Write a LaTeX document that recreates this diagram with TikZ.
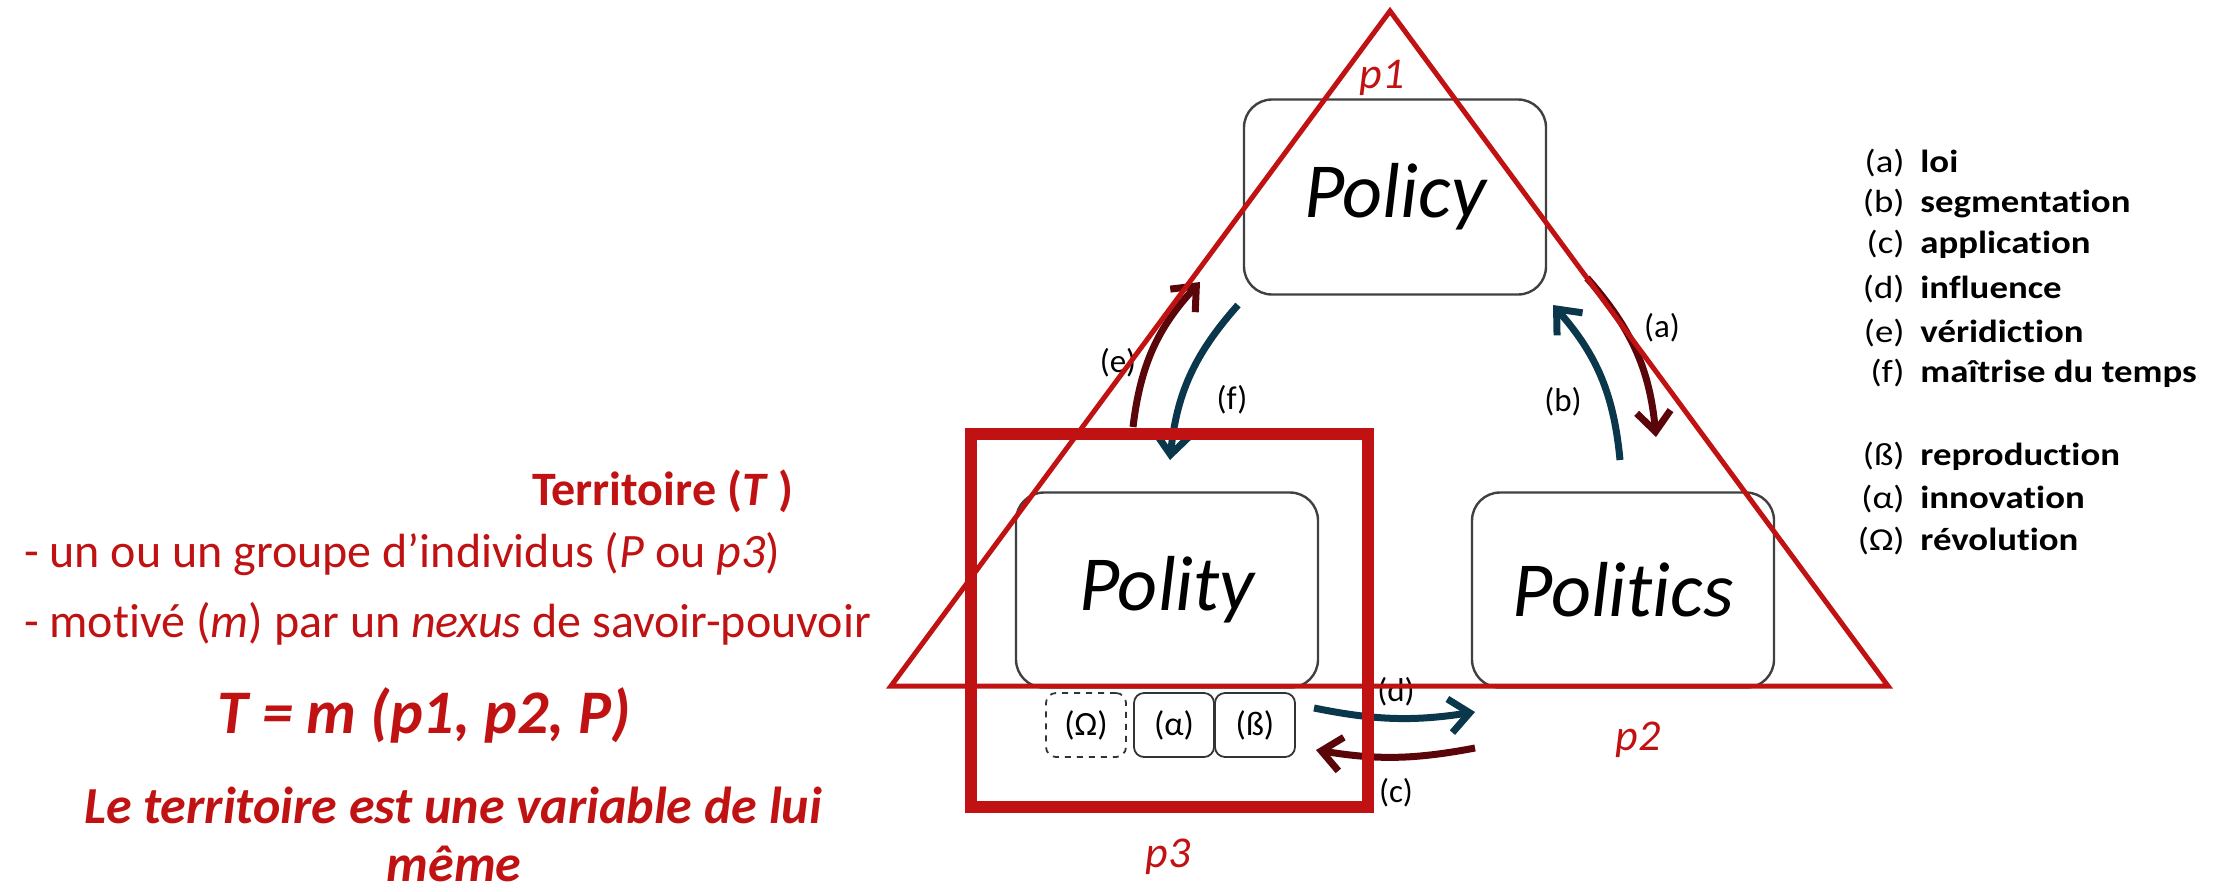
\documentclass[tikz,border=0pt]{standalone}
\usepackage{fontspec}
\setmainfont{Carlito}[Ligatures=NoCommon]
\newfontfamily\legfont[FakeStretch=1.15, Ligatures=NoCommon]{Carlito}
\usetikzlibrary{arrows.meta}
\definecolor{terred}{RGB}{192,18,18}
\definecolor{darkred}{RGB}{90,5,10}
\definecolor{arrteal}{RGB}{10,55,75}
\tikzset{
  pbox/.style={draw=black!75, line width=1.2pt, rounded corners=14pt, minimum width=151pt, minimum height=97.5pt, font=\fontsize{39}{47}\selectfont\itshape},
  sbox/.style={draw=black!80, line width=0.9pt, rounded corners=5pt, minimum width=40pt, minimum height=32pt, inner sep=0pt, font=\fontsize{17}{20}\selectfont},
  flow/.style={line width=3.5pt, -{Straight Barb[length=10pt,width=17pt]}},
  plab/.style={text=terred, font=\fontsize{22}{26}\selectfont\itshape},
  lab/.style={font=\fontsize{16.5}{20}\selectfont},
  redtxt/.style={text=terred, font=\fontsize{24}{29}\selectfont}
}
\begin{document}
\begin{tikzpicture}[x=0.5pt, y=-0.5pt]
\useasboundingbox (0,0) rectangle (2226,891);
% the three boxes
\node[pbox] (policy) at (1395,197) {Policy};
\node[pbox] (polity) at (1167,590) {Polity};
\node[pbox] (politics) at (1623,590) {Politics};
\node[sbox, dashed] (omega) at (1086,725) {(Ω)};
\node[sbox] (alpha) at (1174,725) {(α)};
\node[sbox] (beta) at (1255,725) {(ß)};
% arrows
\coordinate (e0) at (1133,427); \coordinate (e1) at (1200,282);
\coordinate (f0) at (1238,305); \coordinate (f1) at (1170,460);
\coordinate (b0) at (1620,460); \coordinate (b1) at (1553,305);
\coordinate (a0) at (1587,278); \coordinate (a1) at (1656,437);
\coordinate (d0) at (1314,708); \coordinate (d1) at (1475,712);
\coordinate (c0) at (1475,748); \coordinate (c1) at (1316,750);
\draw[flow, darkred] (e0) to[bend left=18] (e1);
\draw[flow, arrteal] (f0) to[bend right=18] (f1);
\draw[flow, arrteal] (b0) to[bend right=18] (b1);
\draw[flow, darkred] (a0) to[bend left=18] (a1);
\draw[flow, arrteal] (d0) to[bend right=10] (d1);
\draw[flow, darkred] (c0) to[bend left=10] (c1);
\node[lab] (le) at (1118,363) {(e)};
\node[lab] (lf) at (1232,400) {(f)};
\node[lab] (lb) at (1563,402) {(b)};
\node[lab] (la) at (1662,328) {(a)};
\node[lab] (ld) at (1396,692) {(d)};
\node[lab] (lc) at (1396,793) {(c)};
% triangle and square
\coordinate (t1) at (1390,11);
\coordinate (t2) at (1888,686);
\coordinate (t3) at (891,686);
\draw[terred, line width=2.5pt] (t1) -- (t2) -- (t3) -- cycle;
\draw[terred, line width=6pt] (971,434) rectangle (1368,807);
\node[plab, anchor=base] (p1) at (1382,88) {p1};
\node[plab, anchor=base] (p2) at (1638,750) {p2};
\node[plab, anchor=base] (p3) at (1168,867) {p3};
% left text
\node[redtxt, anchor=base west, font=\fontsize{24}{29}\selectfont\bfseries] (terr) at (525,505) {Territoire (\textit{T} )};
\node[redtxt, anchor=base west] (indiv) at (17,567) {- un ou un groupe d’individus (\textit{P} ou \textit{p3})};
\node[redtxt, anchor=base west] (motiv) at (17,637) {- motivé (\textit{m}) par un \textit{nexus} de savoir-pouvoir};
\node[redtxt, anchor=base, font=\fontsize{31}{37}\selectfont\bfseries\itshape] (eq) at (424,733) {T = m (p1, p2, P)};
\node[redtxt, anchor=base, font=\fontsize{26}{31}\selectfont\bfseries\itshape] (var1) at (453,823) {Le territoire est une variable de lui};
\node[redtxt, anchor=base, inner sep=0pt, font=\fontsize{26}{31}\selectfont\bfseries\itshape] (var2) at (454,881) {même};
% legend
\foreach \yy/\lbl/\txt [count=\i] in {172/a/loi, 212/b/segmentation, 253/c/application, 298/d/influence, 342/e/véridiction, 382/f/maîtrise du temps, 465/ß/reproduction, 508/α/innovation, 550/Ω/révolution} {
  \node[anchor=base east, inner sep=0pt, font=\legfont\fontsize{16}{19}\selectfont] (key\i) at (1905,\yy) {(\lbl)};
  \node[anchor=base west, inner sep=0pt, font=\legfont\fontsize{16}{19}\selectfont\bfseries] (item\i) at (1920,\yy) {\txt};
}
\end{tikzpicture}
\end{document}
